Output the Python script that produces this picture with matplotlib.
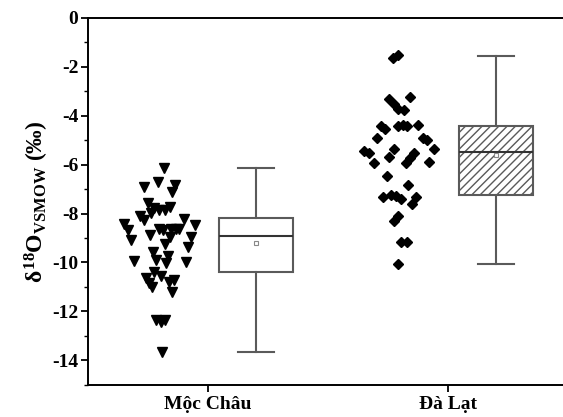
import matplotlib
matplotlib.use('Agg')
import matplotlib.pyplot as plt
from matplotlib.ticker import MultipleLocator

plt.rcParams['font.family'] = 'Liberation Serif'
plt.rcParams['font.weight'] = 'bold'
plt.rcParams['axes.unicode_minus'] = False
plt.rcParams['mathtext.fontset'] = 'custom'
plt.rcParams['mathtext.rm'] = 'Liberation Serif:bold'
plt.rcParams['mathtext.bf'] = 'Liberation Serif:bold'
plt.rcParams['mathtext.it'] = 'Liberation Serif:bold'
plt.rcParams['hatch.color'] = '#888888'

# site names
sites = ['Mộc Châu', 'Đà Lạt']

# individual samples (x = jittered position, y = d18O)
mc_x = [0.815, 0.790, 0.735, 0.863, 0.849, 0.751, 0.776, 0.797, 0.821, 0.840,
        0.763, 0.718, 0.732, 0.651, 0.665, 0.679, 0.760, 0.797, 0.811, 0.846,
        0.867, 0.880, 0.899, 0.946, 0.929, 0.918, 0.843, 0.821, 0.770, 0.693,
        0.783, 0.832, 0.825, 0.908, 0.776, 0.804, 0.742, 0.755, 0.765, 0.839,
        0.860, 0.850, 0.783, 0.804, 0.821, 0.807]
mc_y = [-6.15, -6.70, -6.90, -6.84, -7.11, -7.59, -7.79, -7.86, -7.86, -7.72,
        -7.97, -8.10, -8.27, -8.43, -8.68, -9.09, -8.88, -8.65, -8.68, -8.65,
        -8.62, -8.65, -8.24, -8.47, -8.98, -9.36, -8.98, -9.25, -9.57, -9.95,
        -9.91, -9.74, -10.04, -9.97, -10.38, -10.56, -10.65, -10.86, -11.00, -10.79,
        -10.70, -11.20, -12.36, -12.43, -12.36, -13.66]

dl_x = [1.790, 1.771, 1.755, 1.774, 1.793, 1.818, 1.843, 1.721, 1.738, 1.790,
        1.811, 1.829, 1.874, 1.704, 1.895, 1.913, 1.651, 1.672, 1.774, 1.755,
        1.943, 1.860, 1.843, 1.825, 1.690, 1.922, 1.746, 1.832, 1.728, 1.763,
        1.783, 1.804, 1.867, 1.849, 1.790, 1.774, 1.804, 1.829, 1.793]
dl_y = [-1.51, -1.65, -3.33, -3.52, -3.74, -3.77, -3.25, -4.42, -4.56, -4.42,
        -4.38, -4.42, -4.38, -4.93, -4.93, -4.99, -5.44, -5.54, -5.34, -5.68,
        -5.37, -5.54, -5.74, -5.95, -5.95, -5.88, -6.47, -6.84, -7.34, -7.25,
        -7.29, -7.42, -7.31, -7.61, -8.10, -8.30, -9.16, -9.16, -10.07]

# box summary
box_min = [-13.67, -10.07]
box_q1 = [-10.40, -7.25]
box_med = [-8.92, -5.49]
box_q3 = [-8.19, -4.42]
box_max = [-6.12, -1.54]
box_mean = [-9.20, -5.60]

fig = plt.figure(figsize=(5.63, 4.17), dpi=100)
ax = fig.add_axes([88/563, 1-384.6/417, 480/563, (384.6-18)/417])

ax.plot(mc_x, mc_y, 'v', color='black', markersize=6.5, linestyle='none')
ax.plot(dl_x, dl_y, 'D', color='black', markersize=5.3, linestyle='none')

stats = []
for i in range(2):
    stats.append({'whislo': box_min[i], 'q1': box_q1[i], 'med': box_med[i],
                  'q3': box_q3[i], 'whishi': box_max[i], 'mean': box_mean[i],
                  'fliers': []})
gray = '#5a5a5a'
bp = ax.bxp(stats, positions=[1.2, 2.2], widths=0.31, showmeans=True,
            patch_artist=True, capwidths=0.15,
            boxprops=dict(facecolor='white', edgecolor=gray, linewidth=1.5),
            whiskerprops=dict(color=gray, linewidth=1.5),
            capprops=dict(color=gray, linewidth=1.5),
            medianprops=dict(color='#333333', linewidth=1.5),
            meanprops=dict(marker='s', markerfacecolor='white',
                           markeredgecolor='#888888', markersize=3.5,
                           markeredgewidth=0.8))
bp['boxes'][1].set_hatch('////')

ax.set_xlim(0.5, 2.5)
ax.set_ylim(-15, 0)
ax.set_xticks([1, 2])
ax.set_xticklabels(sites)
ax.yaxis.set_major_locator(MultipleLocator(2))
ax.yaxis.set_minor_locator(MultipleLocator(1))
ax.tick_params(axis='both', which='major', direction='out', length=5, width=1.3,
               labelsize=14)
ax.tick_params(axis='y', which='minor', direction='out', length=3, width=1.0)
ax.tick_params(axis='x', pad=3)
ax.tick_params(axis='y', pad=2)
for s in ['left', 'bottom', 'top']:
    ax.spines[s].set_linewidth(1.4)
ax.spines['right'].set_visible(False)
ax.set_ylabel(r'$\delta^{18}$O$_{VSMOW}$ (‰)', fontsize=17, fontweight='bold', labelpad=1)

fig.savefig('out.png', dpi=100)
